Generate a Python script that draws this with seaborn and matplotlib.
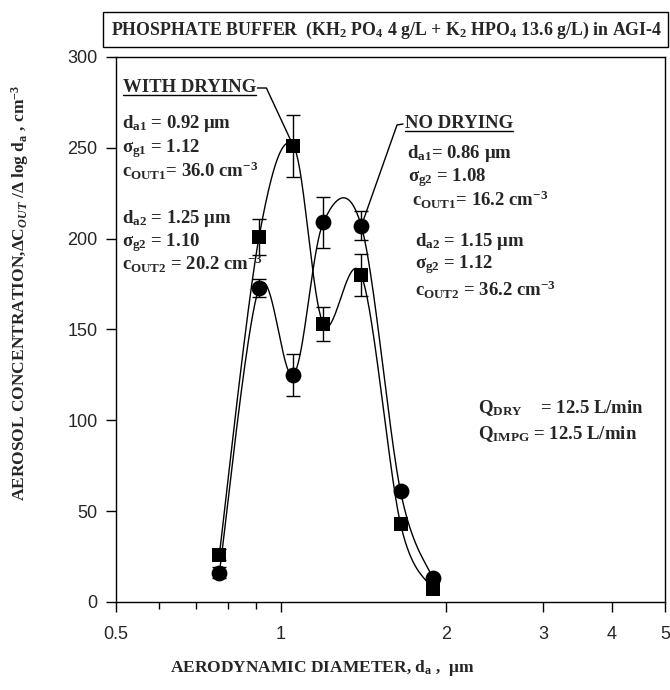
import numpy as np
import pandas as pd
import matplotlib
matplotlib.use("Agg")
import matplotlib.pyplot as plt
import seaborn as sns
from matplotlib.lines import Line2D
from matplotlib.patches import Rectangle
from matplotlib.transforms import IdentityTransform

# ---------------- data ----------------
diameters = [0.772, 0.912, 1.053, 1.194, 1.40, 1.65, 1.89]
with_drying = [26, 201, 251, 153, 180, 43, 7]
with_drying_err = [3, 10, 17, 9.5, 11.5, 0, 0]
no_drying = [16, 173, 125, 209, 207, 61, 13]
no_drying_err = [3, 5, 11.5, 14, 8, 0, 0]

x_major_ticks = [0.5, 1, 2, 3, 4, 5]
x_major_labels = ["0.5", "1", "2", "3", "4", "5"]
x_minor_ticks = [0.6, 0.7, 0.8, 0.9]
y_ticks = [0, 50, 100, 150, 200, 250, 300]

title_text = (r"PHOSPHATE BUFFER  (KH$_{\mathrm{2}}$ PO$_{\mathrm{4}}$ 4 g/L + "
              r"K$_{\mathrm{2}}$ HPO$_{\mathrm{4}}$ 13.6 g/L) in AGI-4")
xlabel_text = r"AERODYNAMIC DIAMETER, d$_{\mathrm{a}}$ ,  μm"
ylabel_text = (r"AEROSOL CONCENTRATION,ΔC$_{\mathit{OUT}}$ /Δ log d$_{\mathrm{a}}$ , "
               r"cm$^{\mathrm{-3}}$")

left_lines = [
    r"d$_{\mathrm{a1}}$ = 0.92 μm",
    r"σ$_{\mathrm{g1}}$ = $\mathit{1.12}$",
    r"c$_{\mathrm{OUT1}}$= 36.0 cm$^{\mathrm{-3}}$",
    r"d$_{\mathrm{a2}}$ = 1.25 μm",
    r"σ$_{\mathrm{g2}}$ = $\mathit{1.10}$",
    r"c$_{\mathrm{OUT2}}$ = 20.2 cm$^{\mathrm{-3}}$",
]
right_lines = [
    r"d$_{\mathrm{a1}}$= 0.86 μm",
    r"σ$_{\mathrm{g2}}$ = 1.08",
    r"c$_{\mathrm{OUT1}}$= 16.2 cm$^{\mathrm{-3}}$",
    r"d$_{\mathrm{a2}}$ = 1.15 μm",
    r"σ$_{\mathrm{g2}}$ = 1.12",
    r"c$_{\mathrm{OUT2}}$ = 36.2 cm$^{\mathrm{-3}}$",
]
q_lines = [
    r"Q$_{\mathrm{DRY}}$    = 12.5 L/min",
    r"Q$_{\mathrm{IMPG}}$ = 12.5 L/min",
]

# ---------------- style ----------------
sns.set_style("ticks")
plt.rcParams["font.family"] = ["Liberation Serif", "DejaVu Serif"]
plt.rcParams["mathtext.fontset"] = "custom"
plt.rcParams["mathtext.rm"] = "Liberation Serif:bold"
plt.rcParams["mathtext.bf"] = "Liberation Serif:bold"
plt.rcParams["mathtext.it"] = "Liberation Serif:bold:italic"
plt.rcParams["mathtext.sf"] = "Liberation Serif:bold"

W, H = 670, 690
fig = plt.figure(figsize=(W / 100, H / 100), dpi=100)
fig.patch.set_facecolor("white")

ax_l, ax_r, ax_t, ax_b = 115.7, 665.0, 57.0, 602.0
ax = fig.add_axes([ax_l / W, 1 - ax_b / H, (ax_r - ax_l) / W, (ax_b - ax_t) / H])


def smooth(xv, yv, n=40):
    """Excel-like smoothed line through the points (Catmull-Rom / Bezier)."""
    u = np.log10(np.asarray(xv, float))
    v = np.asarray(yv, float) / 300.0
    P = np.column_stack([u, v])
    Pe = np.vstack([P[0], P, P[-1]])
    t = np.linspace(0, 1, n)[:, None]
    segs = []
    for i in range(len(P) - 1):
        p0, p1, p2, p3 = Pe[i], Pe[i + 1], Pe[i + 2], Pe[i + 3]
        c1 = p1 + (p2 - p0) / 6.0
        c2 = p2 - (p3 - p1) / 6.0
        B = (1 - t) ** 3 * p1 + 3 * (1 - t) ** 2 * t * c1 + 3 * (1 - t) * t ** 2 * c2 + t ** 3 * p2
        segs.append(B if i == 0 else B[1:])
    B = np.vstack(segs)
    return 10 ** B[:, 0], B[:, 1] * 300.0


df = pd.DataFrame({"d": diameters, "with": with_drying, "with_err": with_drying_err,
                   "no": no_drying, "no_err": no_drying_err})

for col in ["with", "no"]:
    sx, sy = smooth(df["d"], df[col])
    sns.lineplot(x=sx, y=sy, sort=False, estimator=None, color="black", lw=1.0, ax=ax, zorder=2)

for col, ecol in [("with", "with_err"), ("no", "no_err")]:
    m = df[ecol] > 0
    ax.errorbar(df["d"][m], df[col][m], yerr=df[ecol][m], fmt="none", ecolor="black",
                elinewidth=1.0, capsize=5, capthick=1.0, zorder=3)

sns.scatterplot(data=df, x="d", y="with", marker="s", s=95, color="black",
                edgecolor="black", linewidth=0, ax=ax, zorder=4)
sns.scatterplot(data=df, x="d", y="no", marker="o", s=130, color="black",
                edgecolor="black", linewidth=0, ax=ax, zorder=4)

ax.set_xscale("log")
ax.set_xlim(0.5, 5)
ax.set_ylim(0, 300)
ax.set_xticks(x_major_ticks)
ax.set_xticklabels(x_major_labels)
ax.set_xticks(x_minor_ticks, minor=True)
ax.set_xticklabels([], minor=True)
ax.set_yticks(y_ticks)
ax.set_yticklabels([str(v) for v in y_ticks])
ax.set_xlabel("")
ax.set_ylabel("")
for sp in ax.spines.values():
    sp.set_visible(True)
    sp.set_linewidth(1.0)
    sp.set_color("black")
ax.tick_params(axis="both", which="both", direction="out", color="black", width=1.0)
ax.tick_params(axis="x", which="major", length=7, pad=10)
ax.tick_params(axis="x", which="minor", length=5)
ax.tick_params(axis="y", which="major", length=7, pad=6)
for lab in ax.get_xticklabels() + ax.get_yticklabels():
    lab.set_fontfamily(["Liberation Sans", "DejaVu Sans"])
    lab.set_fontsize(13)

# ---------------- texts ----------------
def ftext(px, py, s, **kw):
    kw.setdefault("fontsize", 13.5)
    kw.setdefault("fontweight", "bold")
    kw.setdefault("va", "center")
    kw.setdefault("ha", "left")
    return fig.text(px / W, 1 - py / H, s, **kw)


# title box
fig.add_artist(Rectangle((103 / W, 1 - 47 / H), 565 / W, 35 / H, transform=fig.transFigure,
                         fill=False, lw=1.0, ec="black"))
ftext(387, 30, title_text, ha="center", fontsize=12.9)

ftext(322, 668, xlabel_text, ha="center", fontsize=12.5)
ftext(20, 293, ylabel_text, ha="center", rotation=90, fontsize=12.5)

t_with = ftext(123, 88, "WITH DRYING", fontsize=13.5)
t_no = ftext(405, 124, "NO DRYING", fontsize=13.5)

for (px, py), s in zip([(122, 124), (122, 149), (122, 171), (122, 219), (122, 243), (122, 264)],
                       left_lines):
    ftext(px, py, s)
for (px, py), s in zip([(407, 154), (408, 178), (412, 200), (415, 241), (415, 265), (415, 290)],
                       right_lines):
    ftext(px, py, s)
for (px, py), s in zip([(478, 408), (478, 434)], q_lines):
    ftext(px, py, s)

# underlines and leader lines
fig.canvas.draw()
rend = fig.canvas.get_renderer()
for t in (t_with, t_no):
    bb = t.get_window_extent(rend)
    fig.add_artist(Line2D([bb.x0, bb.x1], [bb.y0 + 2, bb.y0 + 2], transform=IdentityTransform(),
                          color="black", lw=1.0))

bb = t_with.get_window_extent(rend)
ymid = (bb.y0 + bb.y1) / 2
px_pt = ax.transData.transform((diameters[2], with_drying[2]))
fig.add_artist(Line2D([bb.x1 + 1, bb.x1 + 10, px_pt[0]], [ymid, ymid, px_pt[1]],
                      transform=IdentityTransform(), color="black", lw=1.0))

bb = t_no.get_window_extent(rend)
ymid = (bb.y0 + bb.y1) / 2
px_pt = ax.transData.transform((diameters[4], no_drying[4]))
fig.add_artist(Line2D([bb.x0 - 2, bb.x0 - 8, px_pt[0]], [ymid, ymid - 1, px_pt[1]],
                      transform=IdentityTransform(), color="black", lw=1.0))

fig.savefig("out.png", dpi=100, facecolor="white")
